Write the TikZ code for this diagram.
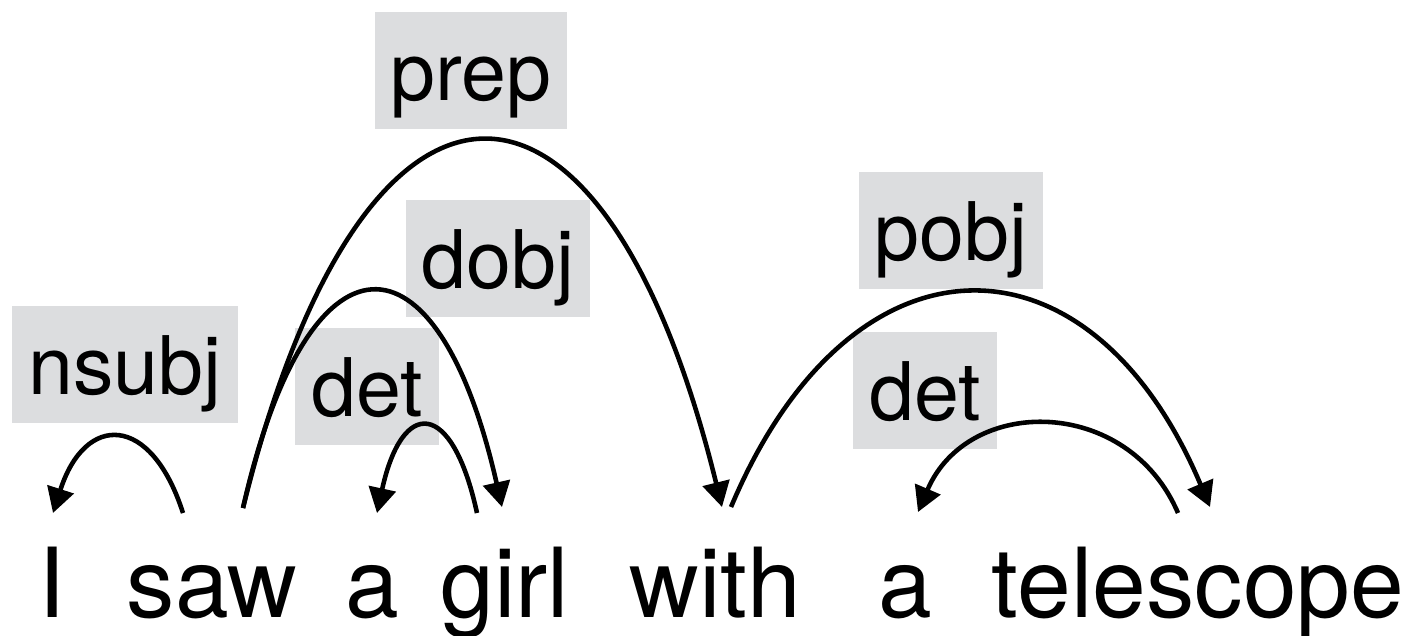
\documentclass[tikz,border=0pt]{standalone}
\usepackage{fontspec}
\setmainfont{TeX Gyre Heros}
\usepackage{tikz}
\usetikzlibrary{arrows.meta}
\definecolor{labelgray}{RGB}{220,221,223}

\begin{document}
\begin{tikzpicture}[x=0.02cm, y=-0.02cm,
  dep/.style={line width=2.6pt, -{Triangle[length=0.5cm, width=0.54cm]}},
  word/.style={anchor=base, inner sep=0pt, font=\fontsize{55}{60}\selectfont},
  rel/.style={anchor=base, fill=labelgray, inner xsep=0.32cm, inner ysep=0pt,
    text height=1.76cm, text depth=0.58cm, font=\fontsize{46}{50}\selectfont}]
\useasboundingbox (0,0) rectangle (1415,635);

\node[word] (I) at (52,617) {I};
\node[word] (saw) at (212,617) {saw};
\node[word] (a1) at (372,617) {a};
\node[word] (girl) at (505,617) {girl};
\node[word] (with) at (715,617) {with};
\node[word] (a2) at (905,617) {a};
\node[word] (telescope) at (1198,617) {telescope};

\node[rel] (prep) at (471,100) {prep};
\node[rel] (dobj) at (498,288) {dobj};
\node[rel] (nsubj) at (125,394) {nsubj};
\node[rel] (det1) at (367,416) {det};
\node[rel] (pobj) at (951,260) {pobj};
\node[rel] (det2) at (925,420) {det};

\coordinate (I-in) at (53,513);
\coordinate (saw-l) at (183,513);
\coordinate (saw-r) at (243,508);
\coordinate (a1-in) at (377,513);
\coordinate (girl-l) at (477,513);
\coordinate (girl-in) at (502,507);
\coordinate (with-in) at (722,507);
\coordinate (with-out) at (731,507);
\coordinate (a2-in) at (918,512);
\coordinate (telescope-l) at (1178,513);
\coordinate (telescope-in) at (1210,507);

\draw[dep] (saw-l) .. controls +(-32,-100) and +(32,-100) .. (I-in);
\draw[dep] (saw-r) .. controls +(120,-488) and +(-120,-488) .. (with-in);
\draw[dep] (saw-r) .. controls +(65,-287) and +(-65,-287) .. (girl-in);
\draw[dep] (girl-l) .. controls +(-25,-115) and +(25,-115) .. (a1-in);
\draw[dep] (with-out) .. controls +(120,-285) and +(-120,-285) .. (telescope-in);
\draw[dep] (telescope-l) .. controls +(-50,-117) and +(50,-117) .. (a2-in);
\end{tikzpicture}
\end{document}
